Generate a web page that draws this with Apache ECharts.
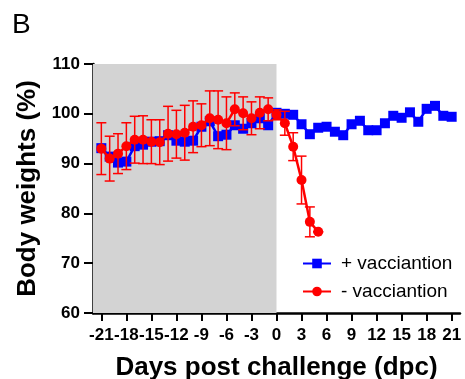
<!DOCTYPE html>
<html>
<head>
<meta charset="utf-8">
<script src="https://cdn.jsdelivr.net/npm/echarts@6/dist/echarts.min.js"></script>
<style>
  html, body { margin: 0; padding: 0; background: #fff; }
  #chart { width: 465px; height: 379px; }
</style>
</head>
<body>
<div id="chart"></div>
<script>
const xTicks = [-21, -18, -15, -12, -9, -6, -3, 0, 3, 6, 9, 12, 15, 18, 21];

const blueDays = [-21, -20, -19, -18, -17, -16, -15, -14, -13, -12, -11, -10, -9, -8, -7, -6, -5, -4, -3, -2, -1,
  0, 1, 2, 3, 4, 5, 6, 7, 8, 9, 10, 11, 12, 13, 14, 15, 16, 17, 18, 19, 20, 21];
const blueWeights = [93.1, 91.4, 90.2, 90.4, 93.5, 93.8, 94.4, 94.5, 95.7, 94.6, 94.4, 94.6, 97.4, 98.5, 95.5, 95.8,
  97.7, 97.0, 98.1, 99.1, 97.7, 100.2, 100.0, 99.8, 97.9, 95.9, 97.2, 97.4, 96.4, 95.7, 97.9, 98.6, 96.7, 96.7,
  98.1, 99.6, 99.2, 100.3, 98.4, 101.0, 101.6, 99.6, 99.4];

const redDays = [-21, -20, -19, -18, -17, -16, -15, -14, -13, -12, -11, -10, -9, -8, -7, -6, -5, -4, -3, -2, -1,
  0, 1, 2, 3, 4, 5];
const redWeights = [93.0, 91.0, 92.0, 93.5, 94.8, 94.8, 94.4, 94.3, 96.0, 95.9, 96.2, 97.4, 97.7, 99.1, 98.8, 98.1,
  100.9, 100.1, 99.1, 100.2, 100.9, 99.8, 98.1, 93.4, 86.7, 78.3, 76.3];
const redSd = [5.2, 4.5, 4.0, 4.7, 4.7, 4.8, 4.4, 4.5, 5.5, 4.8, 5.5, 5.2, 4.3, 5.5, 5.8, 5.3,
  3.3, 3.3, 3.3, 3.2, 2.3, 1.0, 2.4, 2.8, 4.8, 3.0, 0];

const RED = '#ff0000';
const BLUE = '#0000ff';
const font = "'Liberation Sans', Arial, sans-serif";

const chart = echarts.init(document.getElementById('chart'));

const errorData = redDays.map((d, i) => [d, redWeights[i] - redSd[i], redWeights[i] + redSd[i]]);

function renderError(params, api) {
  const x = api.value(0);
  const lo = api.coord([x, api.value(1)]);
  const hi = api.coord([x, api.value(2)]);
  const hw = 5;
  const style = { stroke: RED, lineWidth: 1.5 };
  return {
    type: 'group',
    children: [
      { type: 'line', shape: { x1: lo[0], y1: lo[1], x2: hi[0], y2: hi[1] }, style: style },
      { type: 'line', shape: { x1: lo[0] - hw, y1: lo[1], x2: lo[0] + hw, y2: lo[1] }, style: style },
      { type: 'line', shape: { x1: hi[0] - hw, y1: hi[1], x2: hi[0] + hw, y2: hi[1] }, style: style }
    ]
  };
}

const option = {
  animation: false,
  graphic: [
    {
      type: 'text',
      left: 12,
      top: 11,
      style: { text: 'B', fontSize: 28, fontFamily: font, fill: '#000' }
    }
  ],
  grid: { left: 93, right: 5, top: 64, bottom: 66, outerBoundsMode: 'none' },
  legend: {
    orient: 'vertical',
    left: 297,
    top: 249,
    itemWidth: 28,
    itemHeight: 12,
    itemGap: 9,
    textStyle: { fontSize: 19, fontFamily: font, color: '#000', padding: [0, 0, 0, 5] },
    data: ['+ vacciantion', '- vacciantion']
  },
  xAxis: {
    type: 'value',
    min: -22,
    max: 22,
    name: 'Days post challenge (dpc)',
    nameLocation: 'middle',
    nameGap: 42,
    nameTextStyle: { fontSize: 26, fontWeight: 'bold', fontFamily: font, color: '#000' },
    axisLine: { onZero: false, lineStyle: { color: '#000', width: 2.5 } },
    axisTick: { customValues: xTicks, length: 8, lineStyle: { color: '#000', width: 2 } },
    axisLabel: {
      customValues: xTicks,
      showMinLabel: true,
      showMaxLabel: true,
      hideOverlap: false,
      margin: 14,
      fontSize: 17,
      fontWeight: 'bold',
      fontFamily: font,
      color: '#000'
    },
    splitLine: { show: false }
  },
  yAxis: {
    type: 'value',
    min: 60,
    max: 110,
    interval: 10,
    name: 'Body weights (%)',
    nameLocation: 'middle',
    nameGap: 42,
    nameTextStyle: { fontSize: 26, fontWeight: 'bold', fontFamily: font, color: '#000' },
    axisLine: { show: true, onZero: false, lineStyle: { color: '#000', width: 2.5 } },
    axisTick: { show: true, length: 9, lineStyle: { color: '#000', width: 2 } },
    axisLabel: { margin: 13, fontSize: 17, fontWeight: 'bold', fontFamily: font, color: '#000' },
    splitLine: { show: false }
  },
  series: [
    {
      name: 'pre-challenge',
      type: 'line',
      z: 0,
      silent: true,
      showSymbol: false,
      data: [[-22, 60]],
      lineStyle: { opacity: 0 },
      markArea: {
        silent: true,
        itemStyle: { color: '#d3d3d3' },
        data: [[{ coord: [-22, 60] }, { coord: [0, 110] }]]
      }
    },
    {
      name: '+ vacciantion',
      type: 'line',
      z: 2,
      data: blueDays.map((d, i) => [d, blueWeights[i]]),
      symbol: 'rect',
      symbolSize: [10, 10],
      itemStyle: { color: BLUE },
      lineStyle: { color: BLUE, width: 2.5 }
    },
    {
      name: 'error',
      type: 'custom',
      z: 3,
      renderItem: renderError,
      encode: { x: 0, y: [1, 2] },
      data: errorData
    },
    {
      name: '- vacciantion',
      type: 'line',
      z: 4,
      data: redDays.map((d, i) => [d, redWeights[i]]),
      symbol: 'circle',
      symbolSize: 10,
      itemStyle: { color: RED },
      lineStyle: { color: RED, width: 2.5 }
    }
  ]
};

chart.setOption(option);
</script>
</body>
</html>
